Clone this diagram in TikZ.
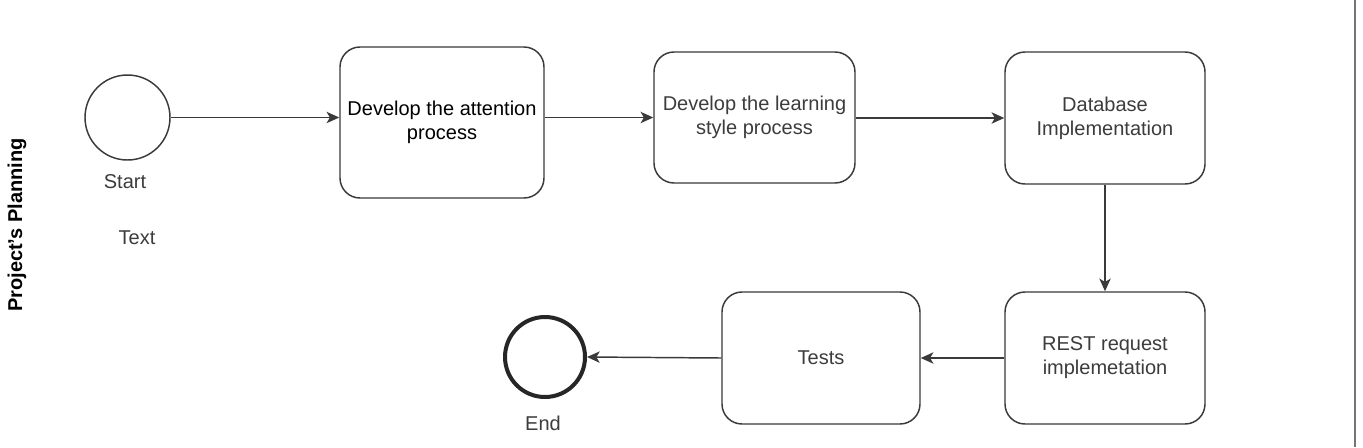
\documentclass[tikz,border=0pt]{standalone}
\usepackage{fontspec}
\setmainfont{Liberation Sans}
\usetikzlibrary{arrows.meta}
\definecolor{ln}{HTML}{3A3A3A}
\definecolor{tx}{HTML}{3C3C3C}
\begin{document}
\begin{tikzpicture}[x=0.75pt,y=-0.75pt,
  task/.style={draw=ln,line width=1.1pt,rounded corners=15pt,align=center,inner sep=0pt,font=\fontsize{15}{18}\selectfont,text=tx},
  lbl/.style={font=\fontsize{15}{18}\selectfont,text=tx,inner sep=0pt},
  flow/.style={draw=ln,line width=1.1pt,-{Stealth[length=9.5pt,width=8.5pt,inset=2.5pt]}}]
\useasboundingbox (0,0) rectangle (1363,447);
\fill[white] (0,0) rectangle (1363,447);
\draw[draw=ln!70,line width=1.5pt] (1355,0) coordinate (lt) -- (1355,447) coordinate (lb);
\node[lbl,rotate=90,font=\bfseries\fontsize{15}{18}\selectfont,text=black] (lane) at (17,225) {Project's Planning};
\node[circle,draw=ln,line width=1.1pt,minimum size=63.75pt,inner sep=0pt] (start) at (127.5,117.5) {};
\node[lbl] (startl) at (125,182) {Start};
\node[lbl] (textl) at (137,238) {Text};
\node[task,text=black,minimum width=153pt,minimum height=113.25pt] (b1) at (442,122.5) {Develop the attention\\process};
\node[task,minimum width=150.75pt,minimum height=98.25pt] (b2) at (754.5,117.5) {Develop the learning\\style process};
\node[task,minimum width=150pt,minimum height=99pt] (b3) at (1105,118) {Database\\Implementation};
\node[task,minimum width=150pt,minimum height=99pt] (b4) at (1105,358) {REST request\\implemetation};
\node[task,minimum width=148.5pt,minimum height=99pt] (b5) at (821,358) {Tests};
\node[circle,draw=black!85,line width=3pt,minimum size=60pt,inner sep=0pt] (end) at (545,357) {};
\node[lbl] (endl) at (543,423) {End};
\draw[flow] (start.east) -- (start.east -| b1.west);
\draw[flow] (b1.east |- b2.west) -- (b2.west);
\draw[flow] (b2.east |- b3.west) -- (b3.west);
\draw[flow] (b3.south) -- (b4.north);
\draw[flow] (b4.west) -- (b5.east);
\draw[flow] (b5.west) -- (end.east);
\end{tikzpicture}
\end{document}
